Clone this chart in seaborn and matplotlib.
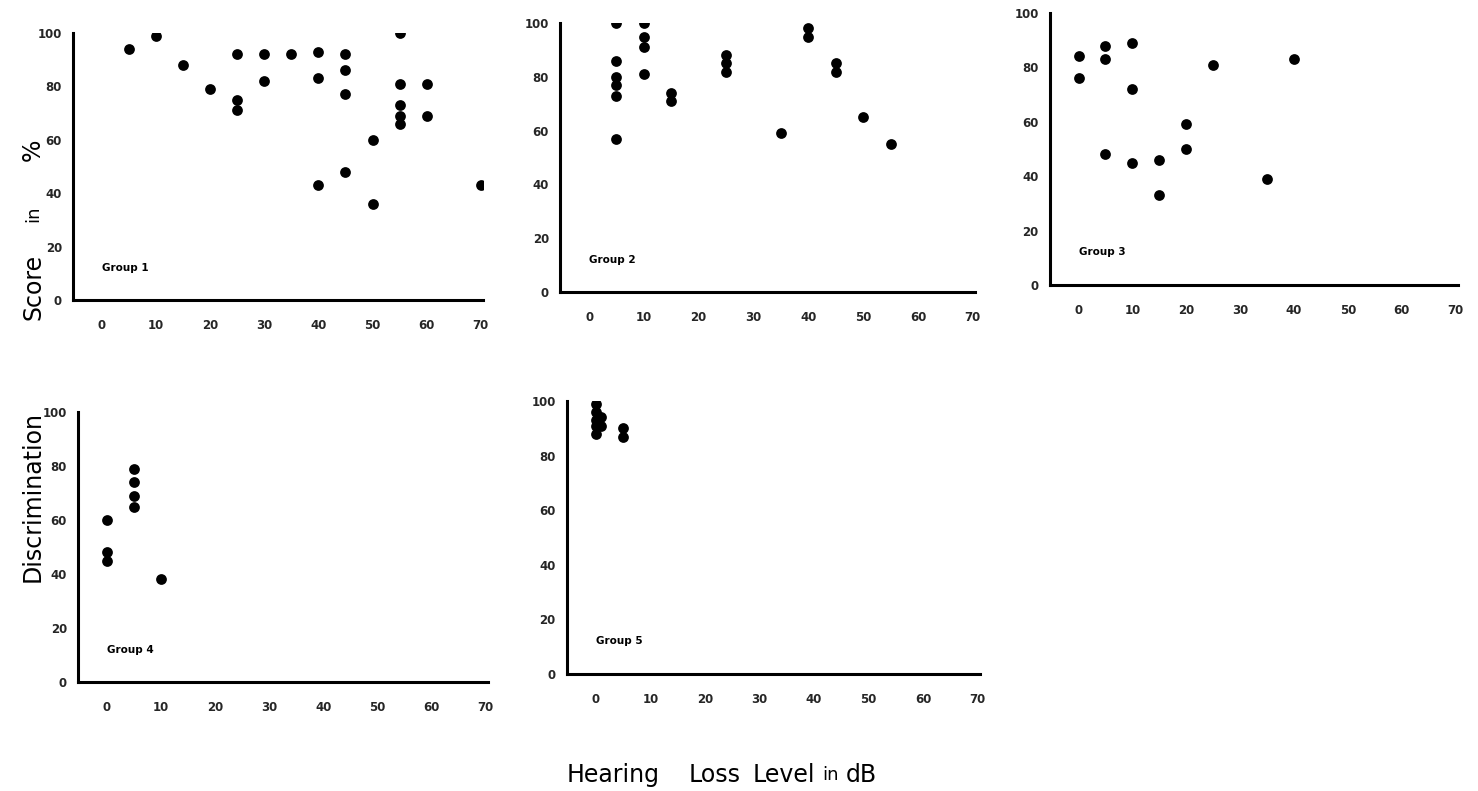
import matplotlib
matplotlib.use("Agg")
import matplotlib.pyplot as plt
import seaborn as sns
import pandas as pd

# ---- data ----
group_names = ["Group 1", "Group 2", "Group 3", "Group 4", "Group 5"]

g1_loss = [5, 10, 15, 20, 25, 25, 25, 30, 30, 35, 40, 40, 40, 45, 45, 45, 45,
           50, 50, 55, 55, 55, 55, 55, 60, 60, 70]
g1_score = [94, 99, 88, 79, 92, 75, 71, 92, 82, 92, 93, 83, 43, 92, 86, 77, 48,
            60, 36, 100, 81, 73, 69, 66, 81, 69, 43]

g2_loss = [5, 5, 5, 5, 5, 5, 10, 10, 10, 10, 15, 15, 25, 25, 25, 35, 40, 40,
           45, 45, 50, 55]
g2_score = [100, 86, 80, 77, 73, 57, 100, 95, 91, 81, 74, 71, 88, 85, 82, 59,
            98, 95, 85, 82, 65, 55]

g3_loss = [0, 0, 5, 5, 5, 10, 10, 10, 15, 15, 20, 20, 25, 35, 40]
g3_score = [84, 76, 88, 83, 48, 89, 72, 45, 46, 33, 59, 50, 81, 39, 83]

g4_loss = [0, 0, 0, 5, 5, 5, 5, 10]
g4_score = [60, 48, 45, 79, 74, 69, 65, 38]

g5_loss = [0, 0, 0, 0, 0, 1, 1, 5, 5]
g5_score = [99, 96, 93, 91, 88, 94, 91, 90, 87]

x_ticks = [0, 10, 20, 30, 40, 50, 60, 70]
y_ticks = [0, 20, 40, 60, 80, 100]

# axis-title words (the small "in" is drawn smaller, as in the original)
x_title_words = ["Hearing", "Loss", "Level", "in", "dB"]
y_title_words = ["Discrimination", "Score", "in", "%"]

frames = []
for name, xs, ys in zip(group_names,
                        [g1_loss, g2_loss, g3_loss, g4_loss, g5_loss],
                        [g1_score, g2_score, g3_score, g4_score, g5_score]):
    frames.append(pd.DataFrame({"group": name, "loss": xs, "score": ys}))
df = pd.concat(frames, ignore_index=True)

# ---- figure ----
sns.set_theme(style="white")
plt.rcParams["font.family"] = ["DejaVu Sans"]

fig = plt.figure(figsize=(14.78, 7.91), dpi=100)

# axes rectangles [left, bottom, width, height] in figure fractions
rects = [
    [0.0494, 0.6207, 0.2774, 0.3375],
    [0.3789, 0.6308, 0.2808, 0.3400],
    [0.7104, 0.6397, 0.2760, 0.3440],
    [0.0528, 0.1378, 0.2774, 0.3413],
    [0.3836, 0.1479, 0.2794, 0.3450],
]

for name, rect in zip(group_names, rects):
    ax = fig.add_axes(rect)
    sub = df[df["group"] == name]
    sns.scatterplot(data=sub, x="loss", y="score", color="black", s=60,
                    edgecolor="black", linewidth=0, ax=ax, legend=False)
    ax.set_xlim(-5.3, 70.4)
    ax.set_ylim(0, 100)
    ax.set_xticks(x_ticks)
    ax.set_yticks(y_ticks)
    ax.set_xticklabels([str(t) for t in x_ticks], fontsize=8.5, fontweight="bold")
    ax.set_yticklabels([str(t) for t in y_ticks], fontsize=8.5, fontweight="bold")
    ax.tick_params(axis="x", length=0, pad=14)
    ax.tick_params(axis="y", length=0, pad=8)
    ax.set_xlabel("")
    ax.set_ylabel("")
    ax.patch.set_alpha(0)
    for side in ["top", "right"]:
        ax.spines[side].set_visible(False)
    for side in ["left", "bottom"]:
        ax.spines[side].set_color("black")
        ax.spines[side].set_linewidth(2.2)
    ax.text(0, 12, name, fontsize=7.5, fontweight="bold", ha="left",
            va="center", color="black")

# x title, word by word (centres in figure pixels -> fractions)
W, H = 1478.0, 791.0
x_word_centres = [613, 715, 784, 831, 861]
x_word_sizes = [17, 17, 17, 13, 17]
for word, cx, fs in zip(x_title_words, x_word_centres, x_word_sizes):
    fig.text(cx / W, 1 - 775 / H, word, ha="center", va="center",
             fontsize=fs, color="black")

# y title, word by word
y_word_centres = [497, 287, 214, 150]
y_word_sizes = [17, 17, 13, 17]
for word, cy, fs in zip(y_title_words, y_word_centres, y_word_sizes):
    fig.text(33 / W, 1 - cy / H, word, ha="center", va="center",
             rotation=90, fontsize=fs, color="black")

fig.savefig("out.png", dpi=100, facecolor="white")
